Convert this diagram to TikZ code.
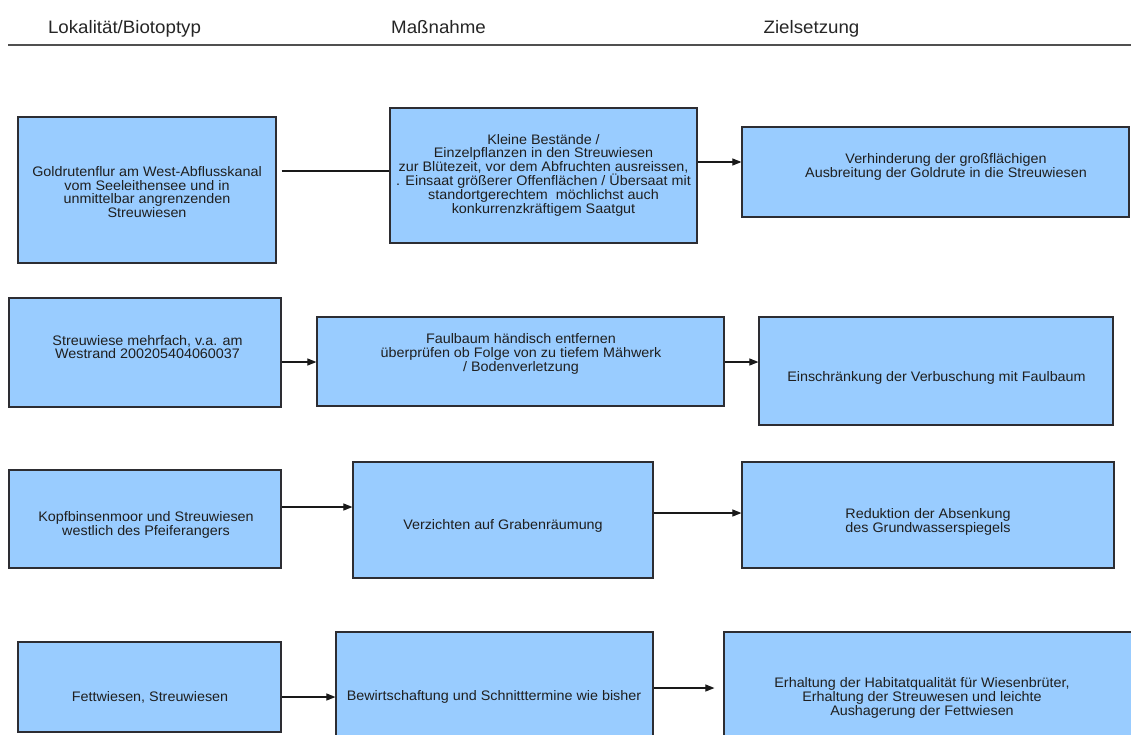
\documentclass[tikz,border=0pt]{standalone}
\usepackage{fontspec}
\setmainfont{Liberation Sans}[FakeStretch=1.04]
\usetikzlibrary{arrows.meta}
\definecolor{boxfill}{RGB}{153,204,255}
\definecolor{boxline}{RGB}{45,45,50}
\definecolor{rulegray}{RGB}{80,80,80}
\begin{document}
\begin{tikzpicture}[x=1pt,y=-1pt,
  box/.style={draw=boxline, line width=1.2pt, fill=boxfill, inner sep=0pt},
  txt/.style={align=center, font=\fontsize{13.8}{13.8}\selectfont, inner sep=0pt, text=black!88},
  head/.style={font=\fontsize{18}{20}\selectfont, inner sep=0pt, anchor=base, text=black!85},
  conn/.style={line width=1.1pt, draw=black!90},
  arr/.style={conn, -{Triangle[length=9pt,width=7pt]}}]
\useasboundingbox (0,0) rectangle (1131,734);
\clip (0,0) rectangle (1131,734);
\fill[white] (0,0) rectangle (1131,734);

% column headings
\node[head] (h1) at (124.5,33) {Lokalität/Biotoptyp};
\node[head] (h2) at (438.5,33) {Maßnahme};
\node[head] (h3) at (811.5,33) {Zielsetzung};
\draw[rulegray, line width=1.6pt] (8,45) -- (1131,45);

% row 1
\node[box, minimum width=258pt, minimum height=146pt] (a1) at (147,190) {};
\node[box, minimum width=307pt, minimum height=135pt] (b1) at (543.5,175.5) {};
\node[box, minimum width=387pt, minimum height=90pt] (c1) at (935.5,172) {};
\node[txt] (a1t) at (147,192) {Goldrutenflur am West-Abflusskanal\\vom Seeleithensee und in\\unmittelbar angrenzenden\\Streuwiesen};
\node[txt] (b1t) at (543.5,175) {Kleine Bestände /\\Einzelpflanzen in den Streuwiesen\\zur Blütezeit, vor dem Abfruchten ausreissen,\\. Einsaat größerer Offenflächen / Übersaat mit\\standortgerechtem\ \ möchlichst auch\\konkurrenzkräftigem Saatgut};
\node[txt] (c1t) at (946,167) {Verhinderung der großflächigen\\Ausbreitung der Goldrute in die Streuwiesen};

% row 2
\node[box, minimum width=272pt, minimum height=109pt] (a2) at (145,352.5) {};
\node[box, minimum width=407pt, minimum height=89pt] (b2) at (520.5,361.5) {};
\node[box, minimum width=354pt, minimum height=108pt] (c2) at (936,371) {};
\node[txt] (a2t) at (147.5,347) {Streuwiese mehrfach, v.a. am\\Westrand 200205404060037};
\node[txt] (b2t) at (521,354) {Faulbaum händisch entfernen\\überprüfen ob Folge von zu tiefem Mähwerk\\/ Bodenverletzung};
\node[txt] (c2t) at (936.5,378) {Einschränkung der Verbuschung mit Faulbaum};

% row 3
\node[box, minimum width=272pt, minimum height=98pt] (a3) at (145,519) {};
\node[box, minimum width=300pt, minimum height=116pt] (b3) at (503,520) {};
\node[box, minimum width=372pt, minimum height=106pt] (c3) at (928,515) {};
\node[txt] (a3t) at (146,525) {Kopfbinsenmoor und Streuwiesen\\westlich des Pfeiferangers};
\node[txt] (b3t) at (503,526) {Verzichten auf Grabenräumung};
\node[txt] (c3t) at (928,522) {Reduktion der Absenkung\\des Grundwasserspiegels};

% row 4
\node[box, minimum width=263pt, minimum height=90pt] (a4) at (149.5,687) {};
\node[box, minimum width=317pt, minimum height=128pt] (b4) at (494.5,696) {};
\node[box, minimum width=416pt, minimum height=128pt] (c4) at (932,696) {};
\node[txt] (a4t) at (150,697) {Fettwiesen, Streuwiesen};
\node[txt] (b4t) at (494,697) {Bewirtschaftung und Schnitttermine wie bisher};
\node[txt] (c4t) at (922,698) {Erhaltung der Habitatqualität für Wiesenbrüter,\\Erhaltung der Streuwesen und leichte\\Aushagerung der Fettwiesen};

% connector heights
\coordinate (r1a) at (0,171);
\coordinate (r1b) at (0,162);
\coordinate (r2) at (0,362);
\coordinate (r3a) at (0,507);
\coordinate (r3b) at (0,513);
\coordinate (r4a) at (0,697);
\coordinate (r4b) at (0,688);

% connectors
\draw[conn] ([xshift=5pt]a1.east |- r1a) -- (b1.west |- r1a);
\draw[arr] (b1.east |- r1b) -- (c1.west |- r1b);
\draw[arr] (a2.east |- r2) -- (b2.west |- r2);
\draw[arr] (b2.east |- r2) -- (c2.west |- r2);
\draw[arr] (a3.east |- r3a) -- (b3.west |- r3a);
\draw[arr] (b3.east |- r3b) -- (c3.west |- r3b);
\draw[arr] (a4.east |- r4a) -- (b4.west |- r4a);
\draw[arr, shorten >=9pt] (b4.east |- r4b) -- (c4.west |- r4b);
\end{tikzpicture}
\end{document}
